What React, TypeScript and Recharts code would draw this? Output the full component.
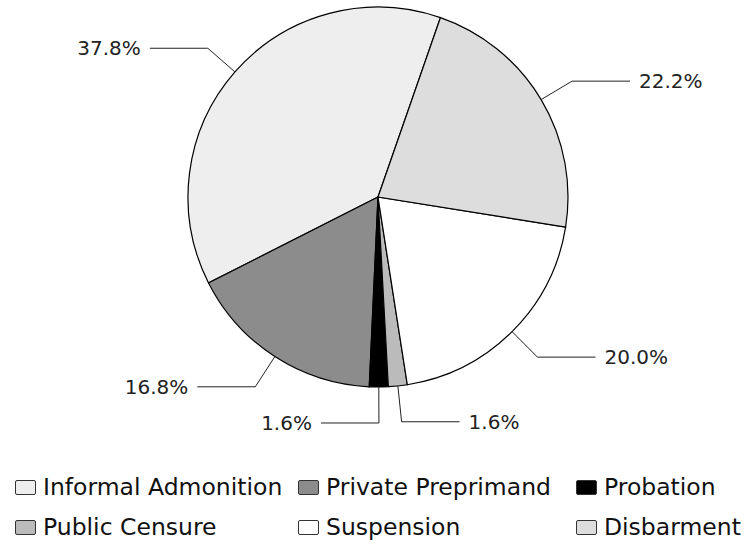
import React from 'react';
import { PieChart, Pie, Cell } from 'recharts';

const categories = [
  'Informal Admonition',
  'Private Preprimand',
  'Probation',
  'Public Censure',
  'Suspension',
  'Disbarment',
];
const shares = [37.8, 16.8, 1.6, 1.6, 20.0, 22.2];
const fills = ['#eeeeee', '#8c8c8c', '#000000', '#bbbbbb', '#ffffff', '#dddddd'];

const data = categories.map((name, i) => ({ name, value: shares[i] }));

const RADIAN = Math.PI / 180;
const FONT = '"DejaVu Sans", sans-serif';

// leader: short radial segment out of the rim, then a horizontal run to the text
const renderLabel = (props: any) => {
  const { cx, cy, midAngle, outerRadius, value } = props;
  const cos = Math.cos(-midAngle * RADIAN);
  const sin = Math.sin(-midAngle * RADIAN);
  const sx = cx + outerRadius * cos;
  const sy = cy + outerRadius * sin;
  const ex = cx + (outerRadius + 36) * cos;
  const ey = cy + (outerRadius + 36) * sin;
  const toLeft = cos < 0.05;
  const hx = ex + (toLeft ? -58 : 58);
  const tx = hx + (toLeft ? -9 : 9);
  return (
    <g>
      <polyline
        points={`${sx},${sy} ${ex},${ey} ${hx},${ey}`}
        fill="none"
        stroke="#222"
        strokeWidth={1}
      />
      <text
        x={tx}
        y={ey}
        textAnchor={toLeft ? 'end' : 'start'}
        dominantBaseline="central"
        fontFamily={FONT}
        fontSize={20}
        fill="#222"
      >
        {`${value.toFixed(1)}%`}
      </text>
    </g>
  );
};

const legendCols = [15, 298, 576];
const legendRows = [487, 527];

export default function App() {
  return (
    <div style={{ position: 'absolute', left: 0, top: 0, width: 753, height: 545, background: '#fff' }}>
      <PieChart width={753} height={545} margin={{ top: 0, right: 0, bottom: 0, left: 0 }}>
        <Pie
          data={data}
          dataKey="value"
          cx={378}
          cy={197}
          outerRadius={190}
          startAngle={70.8}
          endAngle={430.8}
          stroke="#000"
          strokeWidth={1.2}
          label={renderLabel}
          labelLine={false}
          isAnimationActive={false}
        >
          {data.map((d, i) => (
            <Cell key={d.name} fill={fills[i]} />
          ))}
        </Pie>
      </PieChart>
      {data.map((d, i) => {
        const x = legendCols[i % 3];
        const y = legendRows[Math.floor(i / 3)];
        return (
          <div
            key={d.name}
            style={{
              position: 'absolute',
              left: x,
              top: y - 15,
              height: 30,
              display: 'flex',
              alignItems: 'center',
              fontFamily: FONT,
              fontSize: 23.5,
              color: '#111',
              whiteSpace: 'nowrap',
            }}
          >
            <span
              style={{
                display: 'inline-block',
                width: 19,
                height: 13,
                background: fills[i],
                border: '1px solid #333',
                borderRadius: 2,
                marginRight: 7,
              }}
            />
            {d.name}
          </div>
        );
      })}
    </div>
  );
}
